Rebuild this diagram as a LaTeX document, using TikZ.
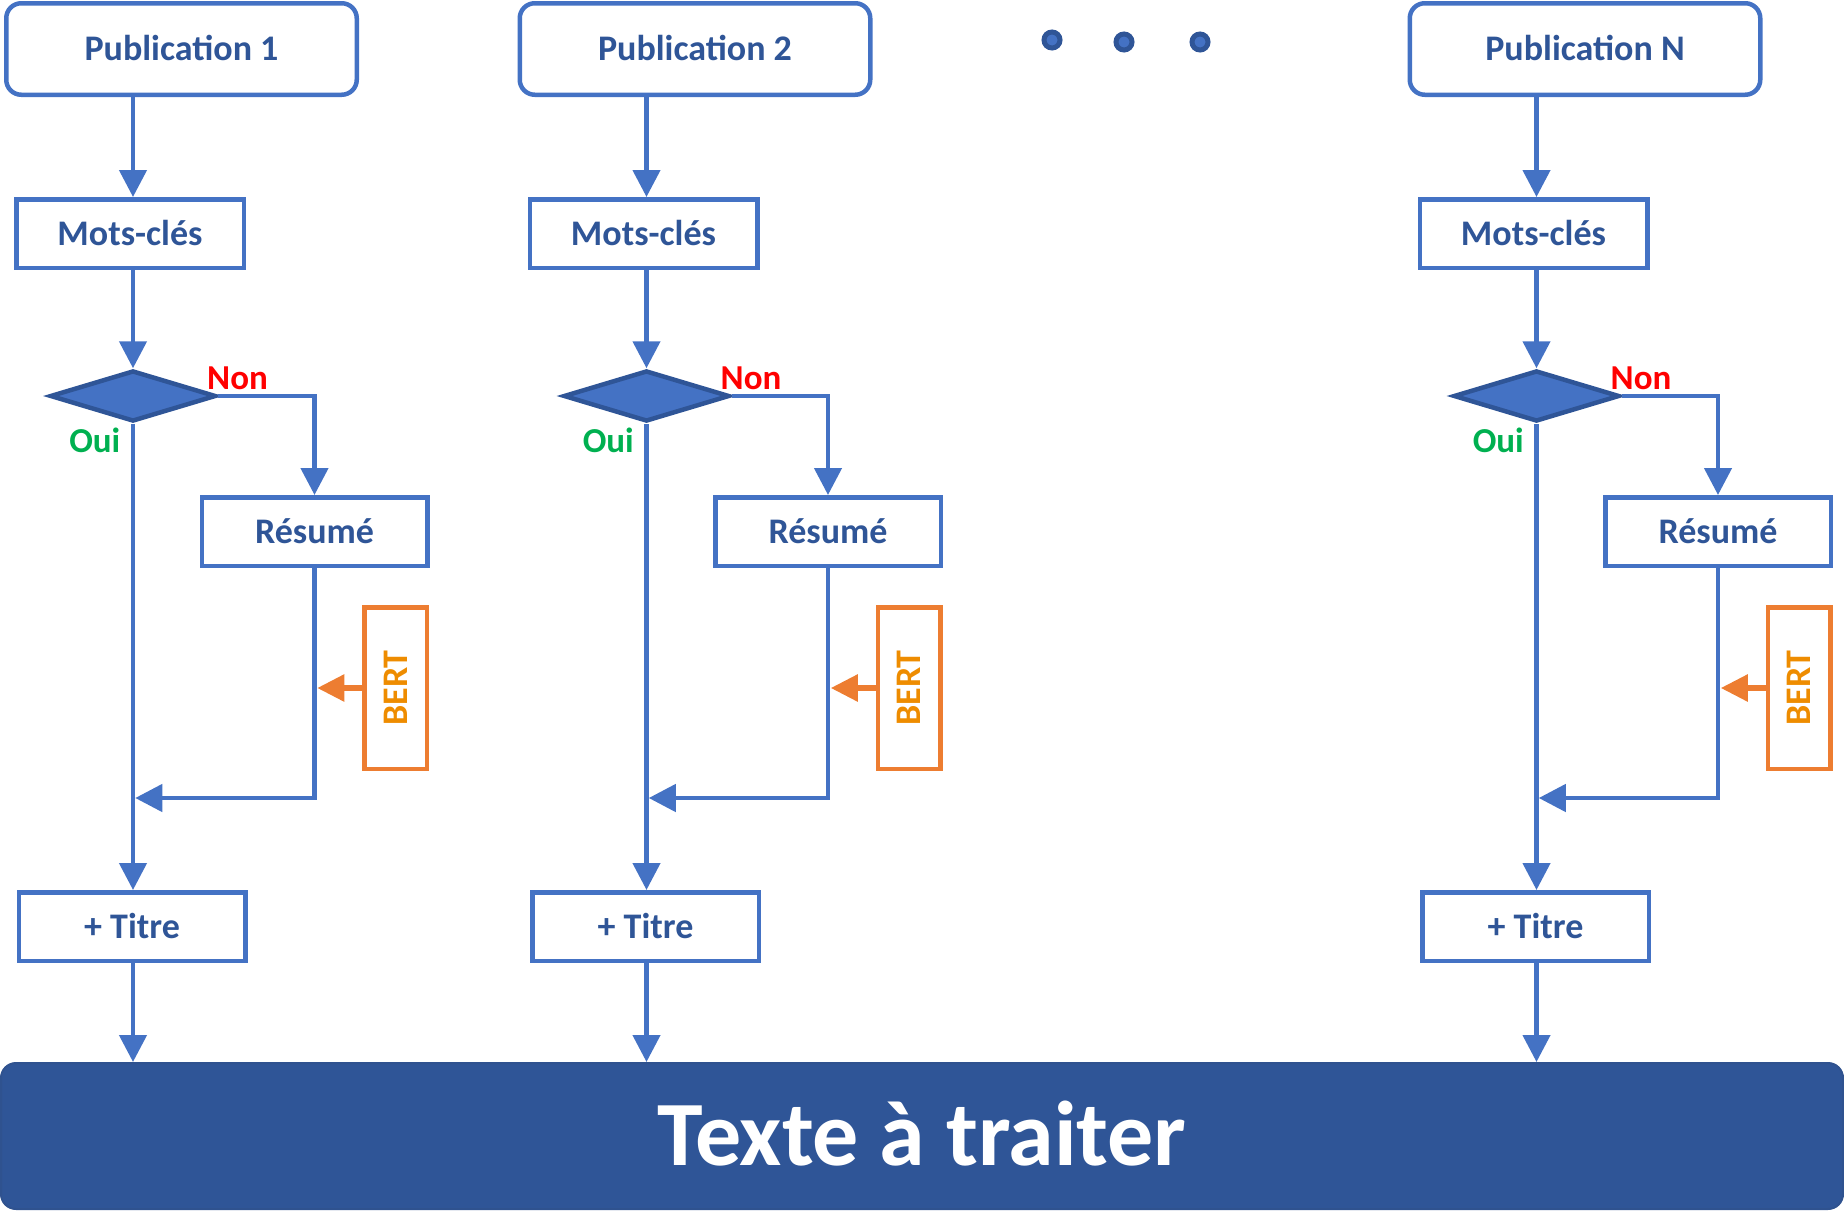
\documentclass[tikz,border=0pt]{standalone}
\usepackage{fontspec}
\usepackage{graphicx}
\setmainfont{Carlito}
\usetikzlibrary{arrows.meta,shapes.geometric}
\definecolor{lblue}{HTML}{4472C4}
\definecolor{dblue}{HTML}{2F5597}
\definecolor{bardk}{HTML}{2F528F}
\definecolor{nonred}{HTML}{FF0000}
\definecolor{ouigreen}{HTML}{00B050}
\definecolor{orng}{HTML}{ED7D31}
\definecolor{orngtxt}{HTML}{EE8C00}
\begin{document}
\begin{tikzpicture}[x=1pt,y=-1pt,
  lbl/.style={font=\fontsize{36}{40}\selectfont\bfseries, text=dblue, text height=23pt, text depth=0pt, inner sep=0pt},
  pubbox/.style={lbl, draw=lblue, line width=4.5pt, rounded corners=15pt, minimum width=350.5pt, minimum height=91.5pt, fill=white},
  sqbox/.style={lbl, draw=lblue, line width=4.5pt, minimum height=68.5pt, fill=white},
  decision/.style={diamond, draw=dblue, fill=lblue, line width=4.5pt, minimum width=166pt, minimum height=51pt, inner sep=0pt},
  bertbox/.style={draw=orng, line width=4.5pt, minimum width=62.5pt, minimum height=161.5pt, inner sep=0pt, text=orngtxt, font=\fontsize{36}{40}\selectfont\bfseries},
  arr/.style={draw=lblue, line width=4.5pt, -{Triangle[length=27pt,width=27pt]}},
  oarr/.style={draw=orng, line width=5.5pt, -{Triangle[length=27pt,width=26pt]}},
  nonlbl/.style={font=\fontsize{35}{38}\selectfont\bfseries, text=nonred, inner sep=0pt, anchor=base west},
  ouilbl/.style={font=\fontsize{35}{38}\selectfont\bfseries, text=ouigreen, inner sep=0pt, anchor=base east},
  dotnode/.style={circle, draw=dblue, fill=lblue, line width=5pt, minimum size=16pt, inner sep=0pt},
  barnode/.style={draw=bardk, line width=2pt, fill=dblue, rounded corners=15pt, minimum width=1842pt, minimum height=146pt, inner sep=0pt, text=white, font=\fontsize{92}{100}\selectfont\bfseries, text height=59pt, text depth=0pt}
]
\useasboundingbox (0,0) rectangle (1844,1210);

\node[barnode] (bar) at (922,1136) {Texte à traiter};

\node[dotnode] (dot1) at (1052,40) {};
\node[dotnode] (dot2) at (1124,42) {};
\node[dotnode] (dot3) at (1200,42) {};

\foreach \i/\x/\lab in {1/133/1, 2/646.5/2, 3/1536.5/N} {
  \node[pubbox] (pub\i) at (\x+48.5,49) {Publication \lab};
  \node[sqbox, minimum width=227.5pt] (mots\i) at (\x-3,233.5) {Mots-clés};
  \node[decision] (dia\i) at (\x,396) {};
  \node[sqbox, minimum width=225.5pt] (res\i) at (\x+181.5,531.5) {Résumé};
  \node[bertbox] (bert\i) at (\x+262.5,688) {\rotatebox{90}{BERT}};
  \node[sqbox, minimum width=226.5pt] (tit\i) at (\x-1,926.5) {+ Titre};
  \node[nonlbl] (non\i) at (\x+74,389) {Non};
  \node[ouilbl] (oui\i) at (\x-12.5,452) {Oui};
  \coordinate (ret\i) at (\x+2.25,798);
  \coordinate (ob\i) at (\x+184.25,686);

  \draw[arr] (pub\i.south -| dia\i.north) -- (mots\i.north -| dia\i.north);
  \draw[arr] (mots\i.south -| dia\i.north) -- (dia\i.north);
  \draw[arr] (dia\i.east) -| (res\i.north);
  \draw[arr] (dia\i.south) -- (tit\i.north -| dia\i.south);
  \draw[arr] (res\i.south) |- (ret\i);
  \draw[oarr] (bert\i.west) -- (bert\i.west -| ob\i);
  \draw[arr] (tit\i.south -| dia\i.south) -- (bar.north -| dia\i.south);
}
\end{tikzpicture}
\end{document}
